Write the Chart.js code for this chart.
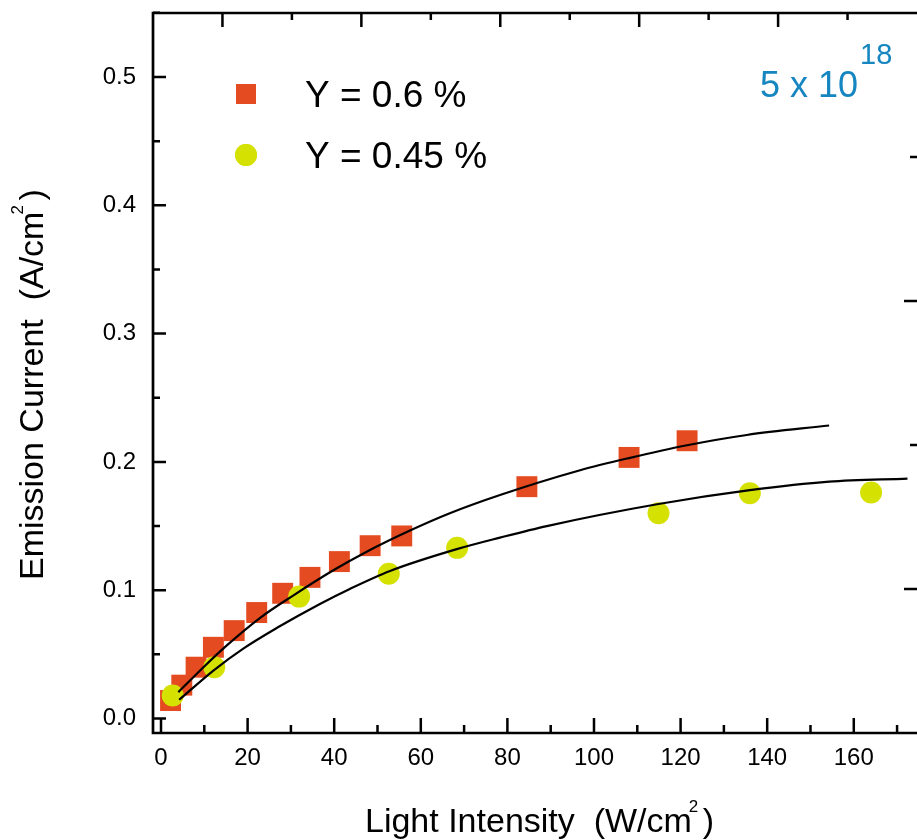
<!DOCTYPE html>
<html>
<head>
<meta charset="utf-8">
<script src="https://cdn.jsdelivr.net/npm/chart.js@4.4.1/dist/chart.umd.min.js"></script>
<style>
  html, body { margin: 0; padding: 0; background: #fff; }
  canvas { display: block; }
</style>
</head>
<body>
<canvas id="c" width="917" height="840"></canvas>
<script>
// emission current vs light intensity, two yields
const sqX = [2.2, 4.8, 8.1, 12.1, 16.9, 22.1, 28.1, 34.4, 41.2, 48.3, 55.6, 84.5, 108.1, 121.5];
const sqY = [0.014, 0.026, 0.040, 0.0555, 0.0685, 0.0826, 0.0976, 0.110, 0.1223, 0.1347, 0.1423, 0.1807, 0.2035, 0.2165];
const ciX = [2.7, 12.3, 31.9, 52.6, 68.4, 114.9, 136.0, 164.0];
const ciY = [0.0179, 0.040, 0.095, 0.1129, 0.133, 0.160, 0.1755, 0.1762];

// fitted curves
const fitAX = [4.0, 9.8, 15.2, 22.9, 30.6, 39.8, 47.5, 57.5, 66.7, 78.3, 96.8, 108.1, 121.5, 135.3, 154.3];
const fitAY = [0.0205, 0.040, 0.057, 0.0785, 0.096, 0.1155, 0.130, 0.1465, 0.160, 0.1742, 0.1935, 0.2030, 0.2130, 0.2210, 0.2284];
const fitBX = [4.2, 12.1, 19.0, 26.7, 36.7, 43.6, 52.9, 68.3, 78.3, 89.1, 114.9, 136.0, 154.3, 172.4];
const fitBY = [0.0146, 0.0374, 0.0545, 0.0705, 0.0893, 0.1010, 0.1150, 0.132, 0.141, 0.150, 0.1672, 0.178, 0.1846, 0.187];

const labels = ['Y = 0.6 %', 'Y = 0.45 %'];
const X_MIN = -1.85, X_MAX = 174.6;
const Y_MIN = -0.0113, Y_MAX = 0.5499;

const FONT = "'Liberation Sans', Arial, Helvetica, sans-serif";
const SQ_COL = '#e44b20';
const CI_COL = '#d5e100';
const BLUE = '#1686c1';

const pts = (xs, ys) => xs.map((x, i) => ({ x, y: ys[i] }));

// axis box with inward ticks, drawn off the chart's scales
const frame = {
  id: 'frame',
  afterDatasetsDraw(chart) {
    const { ctx, chartArea: a, scales } = chart;
    const x = scales.x, y = scales.y, xt = scales.xTop, yr = scales.yRight;
    ctx.save();
    ctx.strokeStyle = '#000';
    ctx.lineWidth = 2.7;
    ctx.lineCap = 'butt';
    ctx.beginPath();
    ctx.moveTo(a.right, a.top); ctx.lineTo(a.left, a.top);
    ctx.lineTo(a.left, a.bottom); ctx.lineTo(a.right, a.bottom);
    ctx.stroke();

    ctx.lineWidth = 2.5;
    ctx.beginPath();
    for (let v = 0; v <= 170; v += 10) {
      const px = x.getPixelForValue(v);
      const len = v % 20 === 0 ? 15 : 8;
      ctx.moveTo(px, a.bottom); ctx.lineTo(px, a.bottom - len);
    }
    for (let k = 0; k <= 11; k++) {
      const py = y.getPixelForValue(k * 0.05);
      const len = k % 2 === 0 ? 13 : 7;
      ctx.moveTo(a.left, py); ctx.lineTo(a.left + len, py);
    }
    for (let k = 1; k <= 10; k++) {
      const px = xt.getPixelForValue(k);
      const len = k % 2 === 1 ? 14 : 7;
      ctx.moveTo(px, a.top); ctx.lineTo(px, a.top + len);
    }
    for (let k = 1; k <= 4; k++) {
      const py = yr.getPixelForValue(k);
      const len = k % 2 === 1 ? 13 : 7;
      ctx.moveTo(a.right, py); ctx.lineTo(a.right - len, py);
    }
    ctx.stroke();
    ctx.restore();
  }
};

// axis titles, legend and the doping note
const decor = {
  id: 'decor',
  afterDraw(chart) {
    const { ctx, chartArea: a } = chart;
    ctx.save();
    ctx.fillStyle = '#000';
    ctx.textBaseline = 'alphabetic';
    ctx.textAlign = 'left';

    // x title
    ctx.font = '34px ' + FONT;
    const xt = 'Light Intensity  (W/cm';
    const xs = 365, xb = 832;
    ctx.fillText(xt, xs, xb);
    const xe = xs + ctx.measureText(xt).width;
    ctx.fillText(')', xe + 11, xb);
    ctx.font = '17px ' + FONT;
    ctx.fillText('2', xe - 3, xb - 20);

    // y title
    ctx.save();
    ctx.translate(43, 580);
    ctx.rotate(-Math.PI / 2);
    ctx.font = '34px ' + FONT;
    const yt = 'Emission Current  (A/cm';
    ctx.fillText(yt, 0, 0);
    const ye = ctx.measureText(yt).width;
    ctx.fillText(')', ye + 11, 0);
    ctx.font = '17px ' + FONT;
    ctx.fillText('2', ye - 3, -20);
    ctx.restore();

    // legend
    [0, 1].forEach(i => {
      const ds = chart.data.datasets[i];
      const cy = a.top + 81 + i * 61;
      ctx.fillStyle = ds.backgroundColor;
      Chart.helpers.drawPoint(ctx, {
        pointStyle: ds.pointStyle, radius: i === 0 ? 14 : 11, borderWidth: 0, rotation: 0
      }, a.left + 93, cy);
      ctx.fill();
      ctx.fillStyle = '#000';
      ctx.font = '37px ' + FONT;
      ctx.fillText(ds.label, 305, cy + 13);
    });

    // 5 x 10^18
    ctx.fillStyle = BLUE;
    ctx.font = '36px ' + FONT;
    ctx.fillText('5 x 10', 760, 97);
    ctx.font = '29px ' + FONT;
    ctx.fillText('18', 860, 64);
    ctx.restore();
  }
};

new Chart(document.getElementById('c'), {
  type: 'scatter',
  data: {
    datasets: [
      { label: labels[0], data: pts(sqX, sqY), pointStyle: 'rect', pointRadius: 14.8,
        backgroundColor: SQ_COL, borderWidth: 0, order: 2 },
      { label: labels[1], data: pts(ciX, ciY), pointStyle: 'circle', pointRadius: 11,
        backgroundColor: CI_COL, borderWidth: 0, order: 1 },
      { label: 'fit A', data: pts(fitAX, fitAY), showLine: true, pointRadius: 0,
        borderColor: '#000', borderWidth: 2.2, cubicInterpolationMode: 'monotone', fill: false, order: 0 },
      { label: 'fit B', data: pts(fitBX, fitBY), showLine: true, pointRadius: 0,
        borderColor: '#000', borderWidth: 2.2, cubicInterpolationMode: 'monotone', fill: false, order: 0 },
    ]
  },
  options: {
    responsive: false,
    animation: false,
    devicePixelRatio: 1,
    events: [],
    layout: { autoPadding: false, padding: { top: 13, right: 0, left: 0, bottom: 0 } },
    plugins: { legend: { display: false }, tooltip: { enabled: false } },
    scales: {
      x: {
        type: 'linear', position: 'bottom', min: X_MIN, max: X_MAX,
        grid: { display: false, drawTicks: false }, border: { display: false },
        ticks: { stepSize: 20, includeBounds: false, color: '#000', padding: 11,
          font: { family: FONT, size: 24 }, maxRotation: 0, callback: v => String(v) },
        afterFit: s => { s.height = 107; s.paddingLeft = 0; s.paddingRight = 0; }
      },
      y: {
        type: 'linear', position: 'left', min: Y_MIN, max: Y_MAX,
        grid: { display: false, drawTicks: false }, border: { display: false },
        ticks: { stepSize: 0.1, includeBounds: false, color: '#000', padding: 17,
          font: { family: FONT, size: 24 }, callback: v => v.toFixed(1) },
        afterFit: s => { s.width = 153; s.paddingTop = 0; s.paddingBottom = 0; }
      },
      xTop: { type: 'linear', position: 'top', min: 0, max: 11, display: false },
      yRight: { type: 'linear', position: 'right', min: 0, max: 5, display: false }
    }
  },
  plugins: [frame, decor]
});
</script>
</body>
</html>
